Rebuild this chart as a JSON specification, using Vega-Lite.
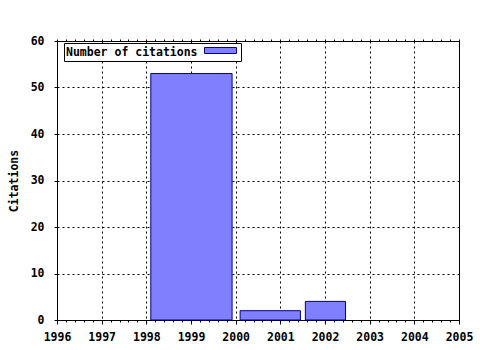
{
  "$schema": "https://vega.github.io/schema/vega-lite/v6.json",
  "width": 402,
  "height": 279,
  "autosize": {"type": "none"},
  "padding": {"left": 57, "top": 41, "right": 21, "bottom": 30},
  "background": "white",
  "config": {
    "view": {"stroke": "black", "strokeWidth": 1},
    "axis": {
      "labelFont": "DejaVu Sans Mono", "labelFontWeight": "bold", "labelFontSize": 11.5, "labelColor": "black",
      "titleFont": "DejaVu Sans Mono", "titleFontWeight": "bold", "titleFontSize": 11.5, "titleColor": "black",
      "domainColor": "black", "tickColor": "black", "gridColor": "black", "gridDash": [2, 3], "gridOpacity": 1, "gridWidth": 1,
      "labelFlush": false, "labelOverlap": false
    }
  },
  "data": {
    "values": [
      {"start": 1998.1, "end": 1999.92, "citations": 53},
      {"start": 2000.1, "end": 2001.45, "citations": 2},
      {"start": 2001.56, "end": 2002.46, "citations": 4}
    ]
  },
  "layer": [
    {
      "mark": {"type": "bar", "stroke": "#000080", "strokeWidth": 1},
      "encoding": {
        "x": {
          "field": "start", "type": "quantitative",
          "scale": {"domain": [1996, 2005], "nice": false, "zero": false},
          "axis": {"orient": "bottom", "values": [1996, 1997, 1998, 1999, 2000, 2001, 2002, 2003, 2004, 2005], "format": "d", "title": null, "grid": true, "tickSize": 4, "labelPadding": 7}
        },
        "x2": {"field": "end"},
        "y": {
          "field": "citations", "type": "quantitative",
          "scale": {"domain": [0, 60], "nice": false},
          "axis": {"values": [0, 10, 20, 30, 40, 50, 60], "title": "Citations", "grid": true, "tickSize": 3, "labelPadding": 10, "titleX": -43, "titleY": 139.5, "titleAngle": -90, "titleBaseline": "middle", "titleAlign": "center"}
        },
        "y2": {"datum": 0},
        "color": {
          "datum": "Number of citations", "type": "nominal",
          "scale": {"range": ["#8080ff"]},
          "legend": {
            "title": "Number of citations", "titleOrient": "left", "titleAnchor": "middle", "orient": "none", "legendX": 7, "legendY": 2,
            "strokeColor": "black", "fillColor": "white", "padding": 2,
            "titleFont": "DejaVu Sans Mono", "titleFontWeight": "bold", "titleFontSize": 11.5, "titleColor": "black", "titlePadding": 17, "titleBaseline": "line-top", "titleLineHeight": 6,
            "symbolType": "M-5.33,-1H5.33V1H-5.33Z", "symbolSize": 36, "symbolStrokeColor": "#000080", "symbolStrokeWidth": 1, "symbolFillColor": "#8080ff",
            "labelExpr": "''", "labelOffset": 0, "labelFontSize": 11
          }
        }
      }
    },
    {
      "mark": {"type": "rule", "opacity": 0},
      "encoding": {
        "x": {"field": "start", "type": "quantitative", "axis": {"orient": "bottom", "values": [1996, 1996.2, 1996.4, 1996.6, 1996.8, 1997, 1997.2, 1997.4, 1997.6, 1997.8, 1998, 1998.2, 1998.4, 1998.6, 1998.8, 1999, 1999.2, 1999.4, 1999.6, 1999.8, 2000, 2000.2, 2000.4, 2000.6, 2000.8, 2001, 2001.2, 2001.4, 2001.6, 2001.8, 2002, 2002.2, 2002.4, 2002.6, 2002.8, 2003, 2003.2, 2003.4, 2003.6, 2003.8, 2004, 2004.2, 2004.4, 2004.6, 2004.8, 2005], "labels": false, "grid": false, "domain": false, "tickSize": 2, "title": null}}
      }
    },
    {
      "mark": {"type": "rule", "opacity": 0},
      "encoding": {
        "x": {"field": "start", "type": "quantitative", "axis": {"orient": "top", "values": [1996, 1996.2, 1996.4, 1996.6, 1996.8, 1997, 1997.2, 1997.4, 1997.6, 1997.8, 1998, 1998.2, 1998.4, 1998.6, 1998.8, 1999, 1999.2, 1999.4, 1999.6, 1999.8, 2000, 2000.2, 2000.4, 2000.6, 2000.8, 2001, 2001.2, 2001.4, 2001.6, 2001.8, 2002, 2002.2, 2002.4, 2002.6, 2002.8, 2003, 2003.2, 2003.4, 2003.6, 2003.8, 2004, 2004.2, 2004.4, 2004.6, 2004.8, 2005], "labels": false, "grid": false, "domain": false, "tickSize": 2, "title": null}}
      }
    }
  ],
  "resolve": {"axis": {"x": "independent"}}
}
